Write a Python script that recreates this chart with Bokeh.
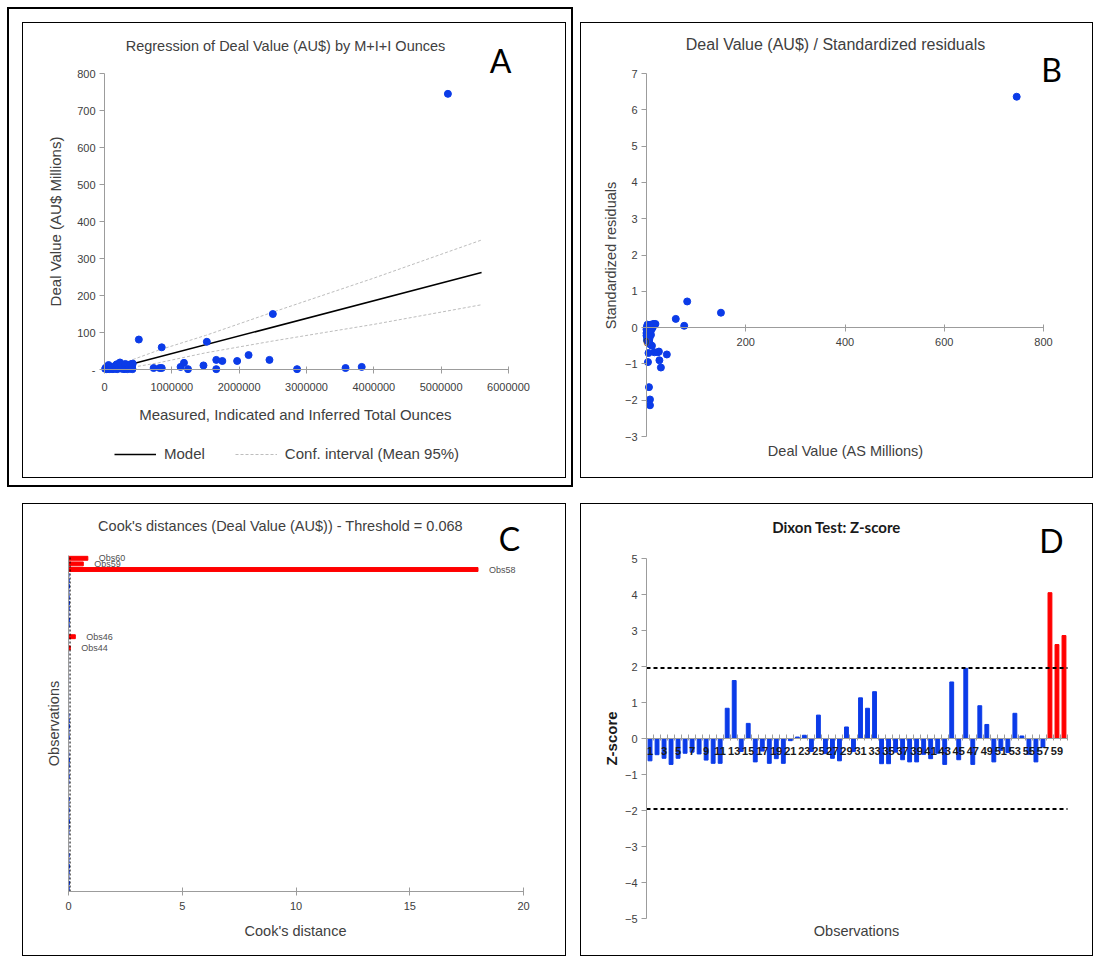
from bokeh.plotting import figure
from bokeh.models import (Range1d, FixedTicker, Label, Legend, LegendItem,
                          BasicTickFormatter, LinearAxis)
from bokeh.layouts import row, column
from bokeh.embed import file_html
from bokeh.resources import INLINE
from bokeh.core.properties import value

# ---------------- data ----------------
# Panel A: regression of deal value on M+I+I ounces
ounces = [10000, 20000, 30000, 45000, 60000, 60000, 70000, 85000, 100000, 110000,
          125000, 140000, 150000, 165000, 175000, 180000, 190000, 200000, 215000, 230000,
          240000, 255000, 265000, 280000, 290000, 300000, 310000, 320000, 330000, 340000,
          350000, 360000, 370000, 380000, 390000, 400000, 410000, 415000, 420000,
          510000, 730000, 820000, 850000, 850000, 1130000, 1180000, 1240000, 1470000, 1520000,
          1660000, 1660000, 1750000, 1970000, 2140000, 2450000, 2500000, 2860000, 3580000,
          3820000, 5100000]
deal_value = [2, 5, 1, 3, 8, 12, 1, 4, 2, 6,
              1, 3, 9, 2, 5, 14, 1, 11, 4, 19,
              7, 2, 13, 5, 1, 9, 15, 3, 6, 1,
              12, 4, 8, 2, 14, 5, 10, 1, 16,
              81, 4, 4, 60, 4, 7, 18, 1, 11, 75,
              1, 26, 23, 23, 39, 26, 150, 1, 4, 7, 745]
model_x = [350000, 5600000]
model_y = [12, 262]
ci_x = [350000, 800000, 1500000, 2500000, 4000000, 5600000]
ci_upper = [22, 52, 92, 155, 247, 350]
ci_lower = [4, 18, 45, 77, 122, 175]
a_xticks = [0, 1000000, 2000000, 3000000, 4000000, 5000000, 6000000]
a_yticks = [0, 100, 200, 300, 400, 500, 600, 700, 800]

# Panel B: standardized residuals vs deal value
b_deal = [746, 150, 82, 59, 76, 41, 29, 26, 25, 23, 16, 11, 4, 3, 7, 5, 7, 7, 18, 12,
          0, 1, 1, 2, 2, 3, 3, 4, 4, 5, 5, 6, 6, 7, 8, 9, 10, 11, 12, 14,
          1, 2, 3, 4, 5, 0, 1, 2, 6, 8, 3, 2, 1, 0, 4, 9, 13, 15, 7, 5]
b_resid = [6.36, 0.41, 0.72, 0.24, 0.05, -0.74, -1.10, -0.90, -0.66, -0.68,
           -0.68, -0.50, -0.70, -0.95, -0.46, -1.64, -1.98, -2.14, 0.10, 0.08,
           -0.05, 0.02, -0.12, -0.20, 0.05, -0.08, -0.28, 0.00, -0.15, -0.05,
           0.06, -0.10, -0.02, 0.03, -0.06, 0.08, 0.04, -0.03, 0.09, 0.07,
           -0.25, -0.32, -0.18, -0.22, 0.01, -0.15, -0.08, -0.02, -0.30, -0.12,
           0.04, 0.08, -0.35, -0.22, -0.36, -0.20, 0.02, 0.10, -0.08, -0.40]
b_xticks = [0, 200, 400, 600, 800]
b_yticks = [-3, -2, -1, 0, 1, 2, 3, 4, 5, 6, 7]

# Panel C: Cook's distances
obs = list(range(1, 61))
cooks = [0.03, 0.04, 0.02, 0.03, 0.04, 0.02, 0.03, 0.003, 0.004, 0.003,
         0.02, 0.03, 0.04, 0.02, 0.03, 0.02, 0.03, 0.003, 0.004, 0.02,
         0.03, 0.02, 0.03, 0.04, 0.02, 0.003, 0.004, 0.03, 0.02, 0.04,
         0.03, 0.02, 0.004, 0.003, 0.005, 0.004, 0.003, 0.004, 0.005, 0.003,
         0.004, 0.003, 0.005, 0.08, 0.004, 0.30, 0.005, 0.03, 0.04, 0.02,
         0.03, 0.04, 0.03, 0.02, 0.04, 0.03, 0.02, 18.0, 0.65, 0.85]
cook_threshold = 0.068
c_xticks = [0, 5, 10, 15, 20]

# Panel D: Dixon test z-scores
zscore = [-0.62, -0.45, -0.55, -0.72, -0.55, -0.41, -0.38, -0.43, -0.60, -0.69,
          -0.69, 0.84, 1.61, -0.36, 0.42, -0.65, -0.35, -0.69, -0.56, -0.69,
          -0.06, 0.04, 0.09, -0.36, 0.65, -0.42, -0.55, -0.62, 0.32, -0.36,
          1.13, 0.84, 1.30, -0.70, -0.70, -0.38, -0.59, -0.65, -0.65, -0.44,
          -0.56, -0.41, -0.72, 1.57, -0.59, 1.95, -0.72, 0.91, 0.39, -0.65,
          -0.33, -0.39, 0.70, 0.07, -0.44, -0.65, -0.24, 4.05, 2.61, 2.86]
z_crit = 1.96
d_yticks = [-5, -4, -3, -2, -1, 0, 1, 2, 3, 4, 5]
d_label_ticks = list(range(1, 60, 2))
d_edge_ticks = [i + 0.5 for i in range(61)]

# ---------------- style ----------------
TXT = "#404040"
AXC = "#9C9C9C"
BLUE = "#0B3BE8"
RED = "#FF0000"
SANS = "Liberation Sans"
CAL = "Lato"


def xrange_for(v0, p0, v1, p1, size):
    s = (p1 - p0) / (v1 - v0)
    start = v0 - p0 / s
    return Range1d(start, start + size / s)


def yrange_for(v0, p0, v1, p1, size):
    # p measured from the top of the canvas
    s = (p0 - p1) / (v1 - v0)
    start = v0 - (size - p0) / s
    return Range1d(start, start + size / s)


def make_fig(w, h, xr, yr):
    p = figure(width=w, height=h, x_range=xr, y_range=yr, output_backend="svg",
               toolbar_location=None, x_axis_location=None, y_axis_location=None,
               min_border_left=0, min_border_right=0, min_border_top=0, min_border_bottom=0)
    p.title.visible = False
    p.grid.visible = False
    p.outline_line_color = None
    p.border_fill_alpha = 0
    p.background_fill_alpha = 0
    p.styles = {"border": "1px solid #000000"}
    return p


def add_axis(p, place, loc, bounds, ticks, minor=None, tin=0, tout=5, standoff=4,
             size="11px", color=TXT, style="normal"):
    ticker = FixedTicker(ticks=ticks, minor_ticks=minor) if minor else FixedTicker(ticks=ticks)
    ax = LinearAxis(fixed_location=loc, bounds=bounds, ticker=ticker)
    ax.axis_line_color = AXC
    ax.major_tick_line_color = AXC
    ax.minor_tick_line_color = None
    ax.major_tick_in = tin
    ax.major_tick_out = tout
    ax.major_label_standoff = standoff
    ax.major_label_text_font = SANS
    ax.major_label_text_font_size = size
    ax.major_label_text_color = color
    ax.major_label_text_font_style = style
    p.add_layout(ax, place)
    return ax


def put(p, h, X, Y, text, size, font=SANS, style="normal", color=TXT, angle=0.0):
    p.add_layout(Label(x=X, y=h - Y, x_units="screen", y_units="screen", text=text,
                       text_font=font, text_font_size=size, text_font_style=style,
                       text_color=color, text_align="center", text_baseline="middle",
                       angle=angle, angle_units="deg"))


# ---------------- Panel A ----------------
AW, AH = 544, 456
pa = make_fig(AW, AH, xrange_for(0, 81, 6000000, 485, AW), yrange_for(0, 346, 800, 50, AH))
r_model = pa.line(model_x, model_y, line_color="black", line_width=1.5)
r_ci = pa.line(ci_x, ci_upper, line_color="#BDBDBD", line_dash="3 2", line_width=1)
pa.line(ci_x, ci_lower, line_color="#BDBDBD", line_dash="3 2", line_width=1)
pa.scatter(ounces, deal_value, size=7, color=BLUE)
xa = add_axis(pa, "below", 0, (0, 6000000), a_xticks, tin=3, tout=4, standoff=9)
xa.formatter = BasicTickFormatter(use_scientific=False)
ya = add_axis(pa, "left", 0, (0, 800), a_yticks, tin=0, tout=5, standoff=4)
ya.major_label_overrides = {0: "-"}
leg = Legend(items=[LegendItem(label="Model", renderers=[r_model]),
                    LegendItem(label="Conf. interval (Mean 95%)", renderers=[r_ci])],
             orientation="horizontal", location=(91, 17), border_line_color=None,
             background_fill_alpha=0, label_text_font=SANS, label_text_font_size="15px",
             label_text_color=TXT, glyph_width=42, glyph_height=16, label_standoff=8,
             spacing=30, padding=4, margin=0)
pa.add_layout(leg)
put(pa, AH, 262, 22, "Regression of Deal Value (AU$) by M+I+I Ounces", "14.5px")
put(pa, AH, 477, 37, "A", "32px", font=CAL, color="#000000")
put(pa, AH, 32, 198, "Deal Value (AU$ Millions)", "15px", angle=90)
put(pa, AH, 272, 391, "Measured, Indicated and Inferred Total Ounces", "15px")

# ---------------- Panel B ----------------
BW, BH = 513, 456
pb = make_fig(BW, BH, xrange_for(0, 65, 800, 462, BW), yrange_for(-3, 413, 7, 50, BH))
pb.scatter(b_deal, b_resid, size=7, color=BLUE)
add_axis(pb, "below", 0, (0, 800), b_xticks, tin=3, tout=4, standoff=6)
add_axis(pb, "left", 0, (-3, 7), b_yticks, tin=0, tout=5, standoff=4)
put(pb, BH, 254, 21, "Deal Value (AU$) / Standardized residuals", "16px")
put(pb, BH, 470, 46, "B", "32px", font=CAL, color="#000000")
put(pb, BH, 29, 232, "Standardized residuals", "14.5px", angle=90)
put(pb, BH, 264, 427, "Deal Value (AS Millions)", "14.5px")

# ---------------- Panel C ----------------
CW, CH = 544, 453
pc = make_fig(CW, CH, xrange_for(0, 45, 20, 500, CW), yrange_for(0.5, 387, 60.5, 51, CH))
c_colors = [RED if c > cook_threshold else BLUE for c in cooks]
pc.hbar(y=obs, left=0, right=cooks, height=0.7, color=c_colors)
pc.segment(x0=[cook_threshold], y0=[obs[0] - 0.5], x1=[cook_threshold], y1=[obs[-1] + 0.5],
           line_color="black", line_dash="2 2", line_width=1)
c_lab_x = [c for c in cooks if c > cook_threshold]
c_lab_y = [o for o, c in zip(obs, cooks) if c > cook_threshold]
c_lab_t = ["Obs%d" % o for o in c_lab_y]
pc.text(x=c_lab_x, y=c_lab_y, text=c_lab_t, x_offset=11, text_baseline="middle",
        text_font=value(SANS), text_font_size="9px", text_color="#505050")
add_axis(pc, "below", 0.5, (0, 20), c_xticks, tin=4, tout=4, standoff=6)
add_axis(pc, "left", 0, (0.5, 60.5), [], tin=0, tout=0, standoff=0)
put(pc, CH, 257, 21, "Cook's distances (Deal Value (AU$)) - Threshold = 0.068", "14.5px")
put(pc, CH, 486, 34, "C", "32px", font=CAL, color="#000000")
put(pc, CH, 30, 219, "Observations", "14.5px", angle=90)
put(pc, CH, 272, 426, "Cook's distance", "14.5px")

# ---------------- Panel D ----------------
DW, DH = 513, 453
pd_ = make_fig(DW, DH, xrange_for(0.5, 65, 60.5, 486, DW), yrange_for(-5, 414, 5, 54, DH))
d_colors = [RED if z > z_crit else BLUE for z in zscore]
pd_.vbar(x=obs, top=zscore, bottom=0, width=0.55, color=d_colors)
pd_.segment(x0=[obs[0] - 0.5] * 2, x1=[obs[-1] + 0.5] * 2, y0=[z_crit, -z_crit],
            y1=[z_crit, -z_crit], line_color="black", line_dash="4 3", line_width=2)
xd = add_axis(pd_, "below", 0, (0.5, 60.5), d_label_ticks, minor=d_edge_ticks,
              tin=0, tout=2, standoff=6, color="#1A1A1A", style="bold")
xd.major_tick_line_color = None
xd.minor_tick_line_color = AXC
xd.minor_tick_in = 4
xd.minor_tick_out = 2
add_axis(pd_, "left", 0.5, (-5, 5), d_yticks, tin=0, tout=5, standoff=4)
put(pd_, DH, 255, 22, "Dixon Test: Z-score", "15px", font=CAL, style="bold", color="#1A1A1A")
put(pd_, DH, 470, 36, "D", "32px", font=CAL, color="#000000")
put(pd_, DH, 30, 234, "Z-score", "15px", style="bold", color="#1A1A1A", angle=90)
put(pd_, DH, 275, 426, "Observations", "14.5px")

# ---------------- layout ----------------
pa.margin = (13, 5, 7, 13)
pb.margin = (15, 0, 0, 7)
pc.margin = (16, 0, 0, 15)
pd_.margin = (16, 0, 0, 14)
boxA = column(pa, styles={"border": "2px solid #000000"})
root = column(row(boxA, pb), row(pc, pd_), margin=(7, 0, 0, 7))

open("out.html", "w").write(file_html(root, INLINE))
